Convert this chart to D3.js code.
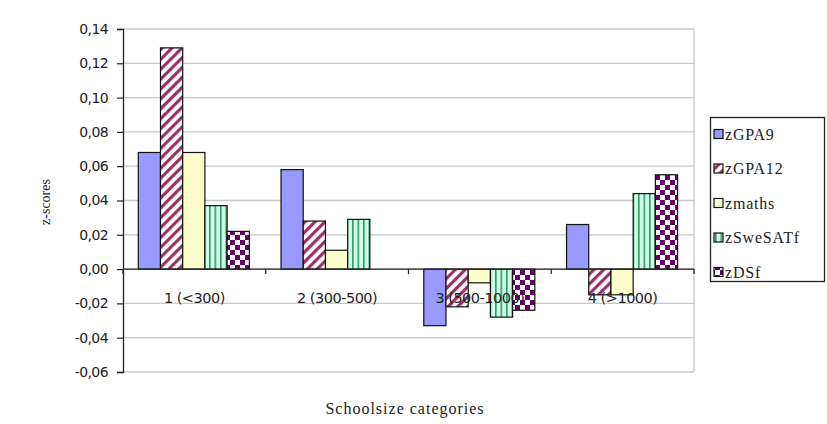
<!DOCTYPE html>
<html><head><meta charset="utf-8">
<script src="https://cdn.jsdelivr.net/npm/d3@7"></script>
<style>body{margin:0;background:#fff}svg{display:block}</style>
</head><body>
<script>
const categories = ["1 (<300)", "2 (300-500)", "3 (500-1000)", "4 (>1000)"];
const seriesNames = ["zGPA9", "zGPA12", "zmaths", "zSweSATf", "zDSf"];
const zGPA9 = [0.068, 0.058, -0.033, 0.026];
const zGPA12 = [0.129, 0.028, -0.022, -0.015];
const zmaths = [0.068, 0.011, -0.008, -0.015];
const zSweSATf = [0.037, 0.029, -0.028, 0.044];
const zDSf = [0.022, 0, -0.024, 0.055];
const yTicks = [0.14, 0.12, 0.10, 0.08, 0.06, 0.04, 0.02, 0, -0.02, -0.04, -0.06];
const seriesValues = [zGPA9, zGPA12, zmaths, zSweSATf, zDSf];

const W = 827, H = 424;
const svg = d3.select("body").append("svg").attr("width", W).attr("height", H);
const defs = svg.append("defs");

// patterns
const p1 = defs.append("pattern").attr("id","pGPA12").attr("patternUnits","userSpaceOnUse")
  .attr("width",7).attr("height",7).attr("patternTransform","rotate(45)");
p1.append("rect").attr("width",7).attr("height",7).attr("fill","#fff");
p1.append("rect").attr("width",3.2).attr("height",7).attr("fill","#993366");

const p2 = defs.append("pattern").attr("id","pSwe").attr("patternUnits","userSpaceOnUse")
  .attr("width",5.5).attr("height",10);
p2.append("rect").attr("width",5.5).attr("height",10).attr("fill","#ccffe6");
p2.append("rect").attr("x",0).attr("width",1.6).attr("height",10).attr("fill","#339966");

const p3 = defs.append("pattern").attr("id","pDSf").attr("patternUnits","userSpaceOnUse")
  .attr("width",10).attr("height",10);
p3.append("rect").attr("width",10).attr("height",10).attr("fill","#fff");
p3.append("rect").attr("width",5).attr("height",5).attr("fill","#660066");
p3.append("rect").attr("x",5).attr("y",5).attr("width",5).attr("height",5).attr("fill","#660066");

const fills = ["#9999ff", "url(#pGPA12)", "#ffffcc", "url(#pSwe)", "url(#pDSf)"];

const L = 123, R = 694;
const y = d3.scaleLinear().domain([-0.06, 0.14]).range([372, 29]);
const x0 = d3.scaleBand().domain(categories).range([L, R]).padding(0);
const x1 = d3.scaleBand().domain(seriesNames)
  .range([x0.bandwidth()*0.107, x0.bandwidth()*0.885]).padding(0);

// gridlines
svg.append("g").selectAll("line").data(yTicks).join("line")
  .attr("x1", L).attr("x2", R).attr("y1", d=>y(d)).attr("y2", d=>y(d))
  .attr("stroke", "#c8c8c8").attr("stroke-width", 1.3);
// right border
svg.append("line").attr("x1",R).attr("x2",R).attr("y1",y(0.14)).attr("y2",y(-0.06))
  .attr("stroke","#c8c8c8").attr("stroke-width",1.3);

// bars
const g = svg.append("g");
seriesValues.forEach((vals, si) => {
  g.selectAll(null).data(vals.map((v,i)=>({v, c: categories[i]}))).join("rect")
    .filter(d => d.v !== 0)
    .attr("x", d => x0(d.c) + x1(seriesNames[si]))
    .attr("width", x1.bandwidth())
    .attr("y", d => y(Math.max(0, d.v)))
    .attr("height", d => Math.abs(y(d.v) - y(0)))
    .attr("fill", fills[si])
    .attr("stroke", "#111").attr("stroke-width", 1.2);
});

// category labels (drawn over bars as in the reference)
svg.append("g").selectAll("text").data(categories).join("text")
  .attr("x", d => x0(d) + x0.bandwidth()/2).attr("y", 303)
  .attr("text-anchor", "middle")
  .attr("font-family", "DejaVu Sans, sans-serif").attr("font-size", 14.5)
  .attr("letter-spacing", "-0.5px")
  .attr("fill", "#222").text(d => d);

// y axis
const yAxis = d3.axisLeft(y).tickValues(yTicks).tickSize(6).tickPadding(9)
  .tickFormat(d => d3.format(".2f")(d).replace(".", ",").replace("−","-"));
const ya = svg.append("g").attr("transform", `translate(${L},0)`).call(yAxis);
ya.select(".domain").attr("stroke", "#222").attr("stroke-width", 1.3);
ya.selectAll(".tick line").attr("stroke", "#222").attr("stroke-width", 1.2);
ya.selectAll("text").attr("font-family", "DejaVu Sans, sans-serif").attr("font-size", 14)
  .attr("fill", "#222").attr("letter-spacing", "-0.6px");

// zero axis line with category ticks
svg.append("line").attr("x1", L).attr("x2", R).attr("y1", y(0)).attr("y2", y(0))
  .attr("stroke", "#222").attr("stroke-width", 1.3);
const sepTicks = categories.map(c => x0(c) + x0.bandwidth()).concat([L]);
svg.append("g").selectAll("line").data(sepTicks).join("line")
  .attr("x1", d=>d).attr("x2", d=>d).attr("y1", y(0)).attr("y2", y(0)+5)
  .attr("stroke", "#222").attr("stroke-width", 1.2);

// axis titles
svg.append("text").attr("x", 405).attr("y", 414).attr("text-anchor", "middle")
  .attr("font-family", "Liberation Serif, serif").attr("font-size", 16)
  .attr("letter-spacing", "1px").attr("fill", "#222").text("Schoolsize categories");
svg.append("text").attr("transform", "translate(50,202) rotate(-90)")
  .attr("text-anchor", "middle")
  .attr("font-family", "Liberation Serif, serif").attr("font-size", 14)
  .attr("fill", "#222").text("z-scores");

// legend
const lg = svg.append("g");
lg.append("rect").attr("x", 710.5).attr("y", 117.5).attr("width", 114).attr("height", 164)
  .attr("fill", "#fff").attr("stroke", "#222").attr("stroke-width", 1.3);
const ly = d3.scalePoint().domain(seriesNames).range([134, 272]);
seriesNames.forEach((n, i) => {
  lg.append("rect").attr("x", 714).attr("y", ly(n) - 4.5).attr("width", 9).attr("height", 9)
    .attr("fill", fills[i]).attr("stroke", "#111").attr("stroke-width", 1.2);
  lg.append("text").attr("x", 725).attr("y", ly(n) + 5.5)
    .attr("font-family", "Liberation Serif, serif").attr("font-size", 16)
    .attr("letter-spacing", "0.8px").attr("fill", "#222").text(n);
});
</script>
</body></html>
